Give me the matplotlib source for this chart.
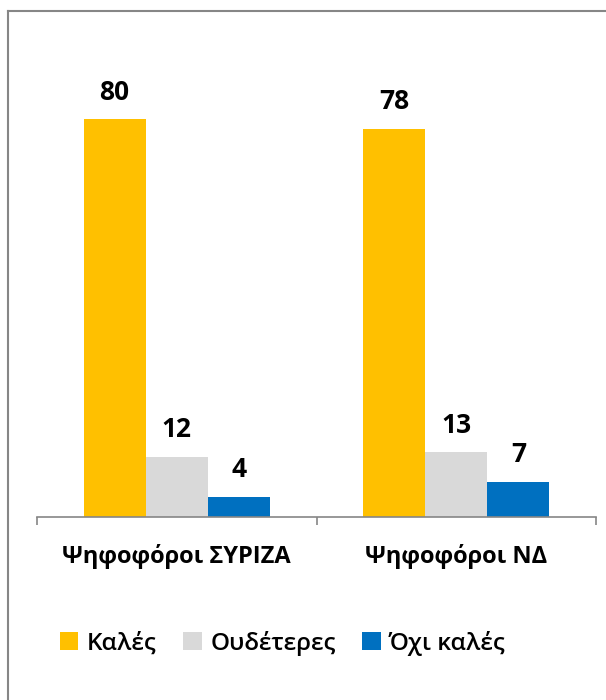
import numpy as np
import matplotlib
matplotlib.use("Agg")
import matplotlib.pyplot as plt
from matplotlib.lines import Line2D

plt.rcParams['font.family'] = ['Open Sans', 'DejaVu Sans']

categories = ['Ψηφοφόροι ΣΥΡΙΖΑ', 'Ψηφοφόροι ΝΔ']
series_names = ['Καλές', 'Ουδέτερες', 'Όχι καλές']
kales = [80, 78]
oudeteres = [12, 13]
oxi_kales = [4, 7]
colors = ['#FFC000', '#D9D9D9', '#0070C0']

W, H = 606, 700
fig = plt.figure(figsize=(W / 100, H / 100), dpi=100)
# plot area: x 37..596, baseline at y=517
ax = fig.add_axes([37 / W, 1 - 517 / H, (596 - 37) / W, (517 - 20) / H])

x = np.arange(len(categories))
bw = 1 / 4.5
values = [kales, oudeteres, oxi_kales]
for i, (vals, name, c) in enumerate(zip(values, series_names, colors)):
    pos = x - bw + i * bw
    bars = ax.bar(pos, vals, width=bw, color=c, label=name)
    for b, v in zip(bars, vals):
        ax.annotate(str(v), (b.get_x() + b.get_width() / 2, v),
                    xytext=(0, 10), textcoords='offset points',
                    ha='center', va='bottom', fontsize=19, fontweight='bold')

ax.set_xlim(-0.5, 1.5)
ax.set_ylim(0, 100)
for s in ['top', 'right', 'left']:
    ax.spines[s].set_visible(False)
ax.spines['bottom'].set_color('#868686')
ax.spines['bottom'].set_linewidth(1.2)
ax.set_yticks([])
ax.set_xticks([-0.5, 0.5, 1.5], minor=False)
ax.set_xticklabels([])
ax.tick_params(axis='x', length=6, color='#868686', width=1.2)
for xi, cat in zip(x, categories):
    ax.text(xi, -0.08, cat, transform=ax.get_xaxis_transform(),
            ha='center', va='center', fontsize=17, fontweight='bold')

leg = fig.legend(loc='center', bbox_to_anchor=(283 / W, 1 - 643 / H), ncol=3,
                 frameon=False, prop={'size': 17.5, 'weight': 'semibold'},
                 handlelength=0.75, handleheight=0.75, handletextpad=0.35,
                 columnspacing=1.1)

# outer border (top and left only visible)
fig.add_artist(Line2D([8 / W, 1], [1 - 11 / H, 1 - 11 / H], color='#868686', lw=1.5))
fig.add_artist(Line2D([8 / W, 8 / W], [0, 1 - 11 / H], color='#868686', lw=1.5))

fig.savefig('out.png', dpi=100)
